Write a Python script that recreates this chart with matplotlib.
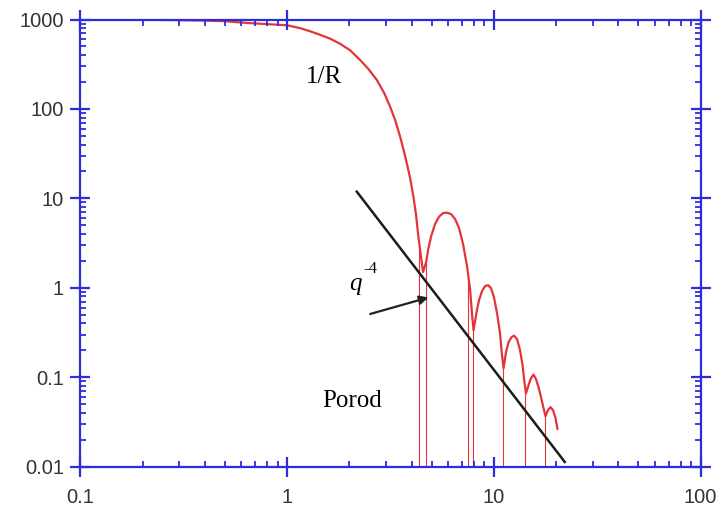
import numpy as np
import matplotlib
matplotlib.use("Agg")
import matplotlib.pyplot as plt
from matplotlib.ticker import FixedLocator, FixedFormatter, LogLocator, NullFormatter

# Scattering intensity of a sphere (smeared), q in 1/nm
q_curve = [0.1, 0.2, 0.3, 0.4, 0.5, 0.64, 0.8, 1.0, 1.156, 1.292, 1.443, 1.614,
           1.805, 2.016, 2.254, 2.463, 2.713, 2.943, 3.146, 3.327, 3.516, 3.677,
           3.79, 3.93, 4.08, 4.20, 4.31, 4.42, 4.54,
           4.70, 4.80, 4.97, 5.19, 5.43, 5.68, 5.93, 6.20, 6.49, 6.78, 7.09,
           7.41, 7.67, 7.84, 7.97,
           8.27, 8.47, 8.76, 9.06, 9.37, 9.68, 10.0, 10.35, 10.7, 10.94, 11.13,
           11.44, 11.77, 12.17, 12.51, 12.93, 13.37, 13.75, 14.06, 14.29,
           14.70, 15.11, 15.54, 15.98, 16.43, 16.89, 17.37, 17.76,
           18.26, 18.77, 19.31, 19.85, 20.3]
I_curve = [998, 993, 984, 972, 958, 915, 888, 862, 800, 738, 675, 610,
           535, 452, 352, 282, 211, 151, 106, 75.1, 49.1, 33.0,
           24.6, 16.9, 10.4, 6.51, 3.73, 2.38, 1.50,
           1.94, 2.64, 3.79, 5.16, 6.26, 6.85, 6.93, 6.67, 5.87, 4.65, 3.08,
           1.75, 0.95, 0.495, 0.336,
           0.56, 0.73, 0.92, 1.045, 1.07, 0.99, 0.787, 0.52, 0.311, 0.176, 0.126,
           0.191, 0.247, 0.281, 0.292, 0.267, 0.201, 0.137, 0.086, 0.066,
           0.0816, 0.0977, 0.107, 0.0953, 0.0775, 0.0599, 0.0451, 0.0367,
           0.0429, 0.0463, 0.0429, 0.0351, 0.0263]

# Positions of the form-factor zeros (ideal monodisperse curve)
q_zeros = [4.35, 4.68, 7.52, 7.90, 11.1, 14.2, 17.7]

# Porod q^-4 asymptote endpoints
q_porod = [2.17, 22.0]
I_porod = [11.9, 0.0113]

x_ticks = [0.1, 1, 10, 100]
x_labels = ["0.1", "1", "10", "100"]
y_ticks = [0.01, 0.1, 1, 10, 100, 1000]
y_labels = ["0.01", "0.1", "1", "10", "100", "1000"]

BLUE = "#2d2ddd"
RED = "#e3343c"

fig = plt.figure(figsize=(7.27, 5.07), dpi=100)
ax = fig.add_axes([0.1107, 0.0795, 0.9638 - 0.1107, 0.9615 - 0.0795])
ax.set_xscale("log")
ax.set_yscale("log")
ax.set_xlim(0.1, 100)
ax.set_ylim(0.01, 1000)

ax.plot(q_curve, I_curve, color=RED, lw=1.6, zorder=1.5,
        solid_capstyle="round", solid_joinstyle="round")

# thin drops to zero at the form-factor minima
z_top = np.exp(np.interp(np.log(q_zeros), np.log(q_curve), np.log(I_curve)))
ax.vlines(q_zeros, 1e-3, z_top, color=RED, lw=0.8, zorder=1.4)

ax.plot(q_porod, I_porod, color="#1c1c1c", lw=1.8, zorder=1.6)

serif = ["Liberation Serif", "DejaVu Serif"]
ax.text(1.51, 228, "1/R", fontsize=18, family=serif, ha="center", va="center")
ax.text(2.13, 1.09, "q", fontsize=18, family=serif, style="italic", ha="center", va="center")
ax.text(2.52, 1.63, "-4", fontsize=12, family=serif, ha="center", va="center")
ax.text(2.05, 0.0536, "Porod", fontsize=18, family=serif, ha="center", va="center")
ax.annotate("", xy=(4.82, 0.78), xytext=(2.52, 0.51),
            arrowprops=dict(arrowstyle="-|>", lw=1.6, color="#222222",
                            mutation_scale=13, shrinkA=0, shrinkB=0))

for s in ax.spines.values():
    s.set_color(BLUE)
    s.set_linewidth(1.6)
    s.set_zorder(3)

ax.xaxis.set_major_locator(FixedLocator(x_ticks))
ax.xaxis.set_major_formatter(FixedFormatter(x_labels))
ax.yaxis.set_major_locator(FixedLocator(y_ticks))
ax.yaxis.set_major_formatter(FixedFormatter(y_labels))
ax.xaxis.set_minor_locator(LogLocator(base=10, subs=np.arange(2, 10), numticks=20))
ax.yaxis.set_minor_locator(LogLocator(base=10, subs=np.arange(2, 10), numticks=20))
ax.xaxis.set_minor_formatter(NullFormatter())
ax.yaxis.set_minor_formatter(NullFormatter())

ax.tick_params(which="major", direction="inout", length=14, width=1.6, color=BLUE,
               top=True, right=True, labelsize=14.5, labelcolor="#333333", pad=5)
ax.tick_params(axis="x", which="major", pad=8)
ax.tick_params(which="minor", direction="in", length=4.5, width=1.3, color=BLUE,
               top=True, right=True)
for lab in ax.get_xticklabels() + ax.get_yticklabels():
    lab.set_family(["Liberation Sans", "DejaVu Sans"])

# the 0.1 ticks are drawn in a lighter tone
tick_01 = ax.yaxis.get_major_ticks()[y_ticks.index(0.1)]
tick_01.tick1line.set_color("#a9b0cc")
tick_01.tick2line.set_color("#a9b0cc")

fig.savefig("out.png", dpi=100)
